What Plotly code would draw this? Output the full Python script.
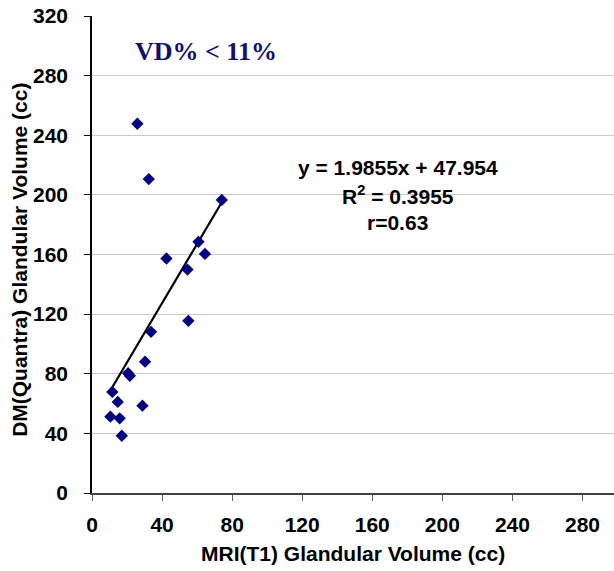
import plotly.graph_objects as go

# Data
mri_x = [25.9, 32.4, 74.1, 60.8, 64.5, 42.5, 54.5, 55.0, 33.7, 30.3,
         20.6, 21.6, 11.6, 14.7, 28.8, 10.5, 15.8, 17.0]
dm_y = [247.7, 210.6, 196.6, 168.5, 160.4, 157.3, 149.9, 115.5, 108.1, 88.1,
        80.3, 78.6, 67.8, 61.1, 58.6, 51.2, 50.1, 38.4]
fit_coef = [1.9855, 47.954]  # slope, intercept
x_ticks = [0, 40, 80, 120, 160, 200, 240, 280]
y_ticks = [0, 40, 80, 120, 160, 200, 240, 280, 320]

line_x = [min(mri_x), max(mri_x)]
line_y = [fit_coef[0] * v + fit_coef[1] for v in line_x]

font_family = "Liberation Sans, Arial, sans-serif"
bold = dict(family=font_family, size=21, weight="bold", color="black")

fig = go.Figure()
fig.add_trace(go.Scatter(
    x=line_x, y=line_y, mode="lines",
    line=dict(color="black", width=2.2), showlegend=False, hoverinfo="skip"))
fig.add_trace(go.Scatter(
    x=mri_x, y=dm_y, mode="markers",
    marker=dict(symbol="diamond", size=9.5, color="#000080",
                line=dict(width=0)),
    showlegend=False, hoverinfo="x+y"))

fig.update_layout(
    width=614, height=571,
    margin=dict(l=92, r=0, t=16, b=78, autoexpand=False),
    paper_bgcolor="white", plot_bgcolor="white",
    font=dict(family=font_family, size=20, color="black"),
    xaxis=dict(
        range=[0, 298], tickvals=x_ticks, ticks="outside", ticklen=6,
        tickcolor="#606060", showline=True, linecolor="#404040", linewidth=1.5,
        showgrid=False, zeroline=False, automargin=False,
        tickfont=bold, ticklabelstandoff=6),
    yaxis=dict(
        range=[0, 320], tickvals=y_ticks, ticks="outside", ticklen=6,
        tickcolor="black", showline=True, linecolor="black", linewidth=1.5,
        showgrid=True, gridcolor="#c8c8c8", gridwidth=1, zeroline=False,
        automargin=False, tickfont=bold, ticklabelstandoff=12),
    annotations=[
        dict(x=0.5, y=-0.1265, xref="paper", yref="paper", showarrow=False,
             yanchor="middle", text="MRI(T1) Glandular Volume (cc)", font=bold),
        dict(x=-0.1386, y=0.488, xref="paper", yref="paper", showarrow=False,
             textangle=-90, xanchor="center", yanchor="middle",
             text="DM(Quantra) Glandular Volume (cc)", font=bold),
        dict(x=174.5, y=218.7, xref="x", yref="y", showarrow=False,
             text="y = 1.9855x + 47.954", font=bold),
        dict(x=174.5, y=199.7, xref="x", yref="y", showarrow=False,
             text="R<sup>2</sup> = 0.3955", font=bold),
        dict(x=174.5, y=181.6, xref="x", yref="y", showarrow=False,
             text="r=0.63", font=bold),
        dict(x=64.9, y=295.9, xref="x", yref="y", showarrow=False,
             text="VD% &lt; 11%",
             font=dict(family="Liberation Serif, Times New Roman, serif",
                       size=26, weight="bold", color="#10106e")),
    ],
)

fig.write_html(
    "out.html",
    config={"displayModeBar": False},
    post_script="document.body.style.margin='0';document.body.style.overflow='hidden';",
)
